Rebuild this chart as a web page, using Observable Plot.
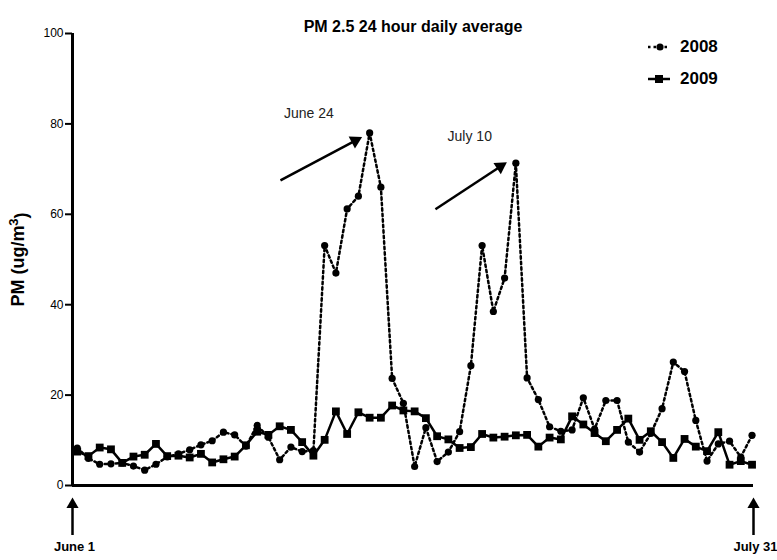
<!DOCTYPE html>
<html>
<head>
<meta charset="utf-8">
<script src="https://cdn.jsdelivr.net/npm/d3@7"></script>
<script src="https://cdn.jsdelivr.net/npm/@observablehq/plot@0.6"></script>
<style>
  body { margin: 0; background: #fff; font-family: "Liberation Sans", Arial, sans-serif; }
  #wrap { position: relative; width: 777px; height: 560px; }
  .lg { position: absolute; left: 647px; height: 20px; display: flex; align-items: center; font-weight: bold; font-size: 17px; color: #000; }
  .lg svg { margin-right: 9px; }
</style>
</head>
<body>
<div id="wrap"></div>
<script>
// ---- data ----
const dayIndex = d3.range(61); // June 1 (0) ... July 31 (60)
const pm2008 = [8.3, 6.0, 4.7, 4.8, 5.0, 4.3, 3.4, 4.7, 6.3, 7.0,
  7.9, 9.0, 9.9, 11.8, 11.2, 8.7, 13.3, 10.7, 5.7, 8.5,
  7.5, 7.7, 53.1, 47.0, 61.2, 64.0, 78.0, 66.0, 23.7, 18.2,
  4.2, 12.8, 5.3, 7.4, 11.9, 26.5, 53.1, 38.5, 45.9, 71.3,
  23.8, 19.0, 13.0, 12.0, 12.3, 19.4, 12.5, 18.8, 18.8, 9.6,
  7.4, 11.5, 17.0, 27.3, 25.2, 14.4, 5.4, 9.2, 9.8, 6.3, 11.1];
const pm2009 = [7.5, 6.5, 8.4, 8.0, 5.0, 6.4, 6.8, 9.2, 6.5, 6.6,
  6.2, 7.0, 5.1, 5.8, 6.4, 8.9, 11.9, 11.2, 13.1, 12.3,
  9.6, 6.6, 10.1, 16.4, 11.4, 16.2, 15.0, 15.0, 17.7, 16.6,
  16.4, 14.9, 10.9, 10.2, 8.3, 8.5, 11.4, 10.6, 10.8, 11.1,
  11.2, 8.6, 10.6, 10.2, 15.3, 13.5, 11.6, 9.8, 12.3, 14.8,
  10.1, 12.0, 9.6, 6.1, 10.3, 8.6, 7.6, 11.8, 4.6, 5.4, 4.6];
const years = ["2008", "2009"];
const yTicks = [0, 20, 40, 60, 80, 100];
const xTickLabels = ["June 1", "July 31"];
const titleText = "PM 2.5 24 hour daily average";
const yLabelBase = "PM (ug/m";
const yLabelSup = "3";
const yLabelEnd = ")";
// annotations: label anchor and arrow (start -> tip), in data units (day, PM)
const annotLabels = ["June 24", "July 10"];
const annotLabelDay = [20.6, 34.9];
const annotLabelPM = [82.3, 77.2];
const arrowStartDay = [18.07, 31.85];
const arrowStartPM = [67.5, 61.1];
const arrowTipDay = [25.33, 38.2];
const arrowTipPM = [77.1, 71.5];

// ---- layout ----
const W = 777, H = 560, mL = 72, mR = 24, mT = 33, mB = 75;
const xDomain = [-0.42, 60.13];
const yDomain = [0, 100];
const kx = (W - mL - mR) / (xDomain[1] - xDomain[0]);
const ky = (H - mT - mB) / (yDomain[1] - yDomain[0]);

const s2008 = dayIndex.map((d, i) => ({day: d, pm: pm2008[i]}));
const s2009 = dayIndex.map((d, i) => ({day: d, pm: pm2009[i]}));

// annotation arrows
const headR = 5;
const headH = Math.sqrt(Math.PI * headR * headR * 4 / Math.sqrt(3)) * Math.sqrt(3) / 2;
const arrows = annotLabels.map((t, i) => {
  const dxp = (arrowTipDay[i] - arrowStartDay[i]) * kx;
  const dyp = (arrowTipPM[i] - arrowStartPM[i]) * ky;
  const len = Math.hypot(dxp, dyp);
  const ux = dxp / len, uy = dyp / len;
  const theta = Math.atan2(dyp, dxp) * 180 / Math.PI;
  return {
    x1: arrowStartDay[i], y1: arrowStartPM[i],
    x2: arrowTipDay[i] - ux * headH * 0.7 / kx, y2: arrowTipPM[i] - uy * headH * 0.7 / ky,
    hx: arrowTipDay[i] - ux * headH * 2 / 3 / kx, hy: arrowTipPM[i] - uy * headH * 2 / 3 / ky,
    rot: 90 - theta
  };
});
const labels = annotLabels.map((t, i) => ({x: annotLabelDay[i], y: annotLabelPM[i], t}));
const bottomX = [xDomain[0], xDomain[1]];
const bottomLab = bottomX.map((x, i) => ({x, t: xTickLabels[i]}));
const bHeadR = 4.5;
const bHeadH = Math.sqrt(Math.PI * bHeadR * bHeadR * 4 / Math.sqrt(3)) * Math.sqrt(3) / 2;
const yLabelFull = yLabelBase + yLabelSup + yLabelEnd;

const chart = Plot.plot({
  width: W, height: H,
  marginLeft: mL, marginRight: mR, marginTop: mT, marginBottom: mB,
  style: {fontFamily: "'Liberation Sans', Arial, sans-serif", color: "#000", background: "#fff"},
  x: {domain: xDomain, axis: null},
  y: {domain: yDomain, axis: null},
  marks: [
    Plot.axisY({ticks: yTicks, tickSize: 7, tickPadding: 2, fontSize: 12, strokeWidth: 2, label: null}),
    Plot.ruleY([0], {strokeWidth: 3}),
    Plot.ruleX([xDomain[0]], {strokeWidth: 3}),
    // 2008
    Plot.line(s2008, {x: "day", y: "pm", stroke: "#000", strokeWidth: 2.5, strokeDasharray: "2.5,3"}),
    Plot.dot(s2008, {x: "day", y: "pm", symbol: "circle", r: 3.6, fill: "#000", stroke: "none"}),
    // 2009
    Plot.line(s2009, {x: "day", y: "pm", stroke: "#000", strokeWidth: 2.5}),
    Plot.dot(s2009, {x: "day", y: "pm", symbol: "square", r: 4.4, fill: "#000", stroke: "none"}),
    // annotation arrows
    Plot.link(arrows, {x1: "x1", y1: "y1", x2: "x2", y2: "y2", stroke: "#000", strokeWidth: 2.5}),
    Plot.dot(arrows, {x: "hx", y: "hy", rotate: "rot", symbol: "triangle", r: headR, fill: "#000", stroke: "none"}),
    Plot.text(labels, {x: "x", y: "y", text: "t", fontSize: 14, fill: "#222"}),
    // bottom arrows
    Plot.ruleX(bottomX, {y1: -50 / ky, y2: -18 / ky, strokeWidth: 2.5}),
    Plot.dot(bottomX, {x: d => d, y: 0, dy: 12 + bHeadH * 2 / 3, symbol: "triangle", r: bHeadR, fill: "#000", stroke: "none"}),
    Plot.text(bottomLab, {x: "x", text: "t", frameAnchor: "bottom", dx: 2, dy: 65, fontSize: 13, fontWeight: "bold"}),
    // title and y label
    Plot.text([titleText], {text: d => d, frameAnchor: "top", dy: -13, fontSize: 16, fontWeight: "bold"}),
    Plot.text([yLabelFull], {text: d => d, frameAnchor: "left", textAnchor: "middle", dx: -54, rotate: -90, fontSize: 18, fontWeight: "bold"})
  ]
});
const wrap = document.getElementById("wrap");
wrap.appendChild(chart);

// superscript in y label (kept as real text)
d3.select(chart).selectAll("text").filter(function() { return this.textContent === yLabelFull; })
  .each(function() {
    const t = d3.select(this);
    t.text(null);
    t.append("tspan").text(yLabelBase);
    t.append("tspan").attr("dy", "-0.45em").attr("font-size", "13px").text(yLabelSup);
    t.append("tspan").attr("dy", "0.45em").text(yLabelEnd);
  });

// legend
const legendY = [47, 79];
years.forEach((yr, i) => {
  const div = document.createElement("div");
  div.className = "lg";
  div.style.top = (legendY[i] - 10) + "px";
  const sym = i === 0
    ? `<svg width="24" height="12"><line x1="1" x2="21" y1="6" y2="6" stroke="#000" stroke-width="2.5" stroke-dasharray="2.5,3"/><circle cx="13" cy="6" r="3.6" fill="#000"/></svg>`
    : `<svg width="24" height="12"><line x1="1" x2="23" y1="6" y2="6" stroke="#000" stroke-width="2.5"/><rect x="8" y="2" width="8" height="8" fill="#000"/></svg>`;
  div.innerHTML = sym + `<span>${yr}</span>`;
  wrap.appendChild(div);
});
</script>
</body>
</html>
